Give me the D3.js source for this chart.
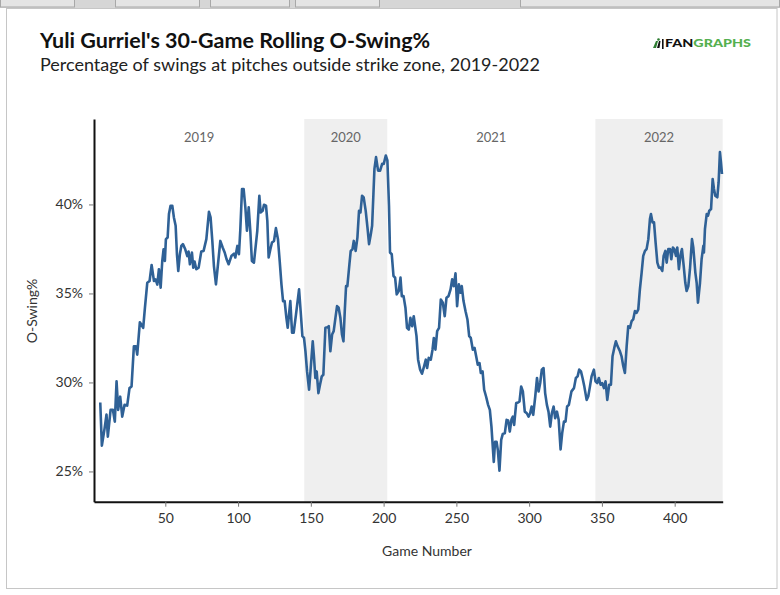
<!DOCTYPE html>
<html>
<head>
<meta charset="utf-8">
<script src="https://cdn.jsdelivr.net/npm/d3@7"></script>
<style>
  html, body { margin: 0; padding: 0; background: #ffffff; }
  svg { display: block; }
  text { font-family: Lato, "Open Sans", sans-serif; }
</style>
</head>
<body>
<svg id="chart" width="780" height="595"></svg>
<script>
// ---- data ----
const title = "Yuli Gurriel's 30-Game Rolling O-Swing%";
const subtitle = "Percentage of swings at pitches outside strike zone, 2019-2022";
const xTicks = [50, 100, 150, 200, 250, 300, 350, 400];
const yTicks = [25, 30, 35, 40];
const seasons = ["2019", "2020", "2021", "2022"];
const seasonStart = [1, 145.5, 202.5, 345.5];
const seasonEnd = [145.5, 202.5, 345.5, 433];
const seasonShaded = [false, true, false, true];

const games = [
5.3,6.4,8.3,9.6,10.5,12.4,14.0,15.3,16.5,17.6,19.0,20.4,22.0,23.8,25.4,26.8,28.4,29.8,30.7,32.5,
34.8,36.0,37.6,39.2,40.6,42.2,43.3,44.5,45.6,46.8,47.9,48.8,49.7,50.4,51.6,52.5,53.6,54.8,55.9,57.1,
58.0,58.9,60.0,61.0,62.1,63.7,65.1,66.0,66.9,68.3,69.2,70.1,71.3,72.9,74.7,76.3,78.2,80.0,81.1,82.3,
83.4,84.8,86.2,87.8,89.4,90.8,92.1,93.5,95.4,97.2,98.1,99.5,100.6,101.5,102.7,103.8,105.0,106.1,107.3,108.4,
109.5,110.9,
113.2,114.6,115.5,116.9,117.8,119.2,120.1,121.0,122.2,123.3,124.7,126.0,127.4,128.6,129.8,130.9,132.0,133.2,134.1,135.9,
137.1,138.2,139.8,141.9,143.0,144.2,145.3,146.3,147.4,148.8,150.1,151.3,152.2,153.1,154.0,155.2,156.3,157.5,158.6,160.0,
161.4,162.3,163.4,164.6,165.7,166.9,168.0,169.1,170.3,171.4,172.4,173.3,174.2,175.1,176.5,177.4,178.6,179.5,180.8,182.0,
183.1,184.1,185.2,186.3,187.7,188.9,190.0,191.2,192.1,193.0,193.7,194.8,196.2,197.6,199.0,200.1,201.5,202.6,203.7,204.4,
205.6,206.8,207.9,209.0,210.4,211.6,212.5,213.7,215.0,216.1,217.3,218.4,219.6,220.7,
222.6,223.7,225.1,226.4,227.8,229.0,229.9,231.0,232.4,233.6,234.5,235.6,236.8,238.1,239.3,240.7,242.0,243.2,244.6,246.0,
247.1,248.2,249.4,250.5,251.7,252.8,253.7,254.9,256.3,257.6,258.8,259.9,261.3,262.5,263.6,264.7,265.9,266.8,268.0,269.1,
270.4,271.8,273.0,274.1,275.0,275.7,276.6,277.6,278.5,279.6,280.8,281.9,283.3,284.5,285.6,286.7,287.9,288.8,289.7,291.1,
292.4,293.4,294.5,295.7,297.0,298.4,299.6,300.7,301.7,302.8,304.2,305.4,306.5,307.6,308.7,309.9,311.0,312.2,313.3,314.5,
315.6,316.8,317.9,319.1,320.3,321.6,322.7,323.9,325.0,326.1,327.3,
329.1,330.8,332.1,333.3,334.4,335.6,336.7,337.9,339.5,340.6,341.8,342.9,344.5,345.6,346.8,347.9,349.1,350.2,351.4,352.5,
353.7,355.0,356.2,357.3,358.5,359.6,360.8,362.4,363.5,364.7,365.8,367.0,368.1,369.3,370.4,371.5,372.7,373.8,375.0,376.1,
377.3,378.4,379.6,380.7,381.9,383.0,383.7,384.8,385.8,386.9,388.1,389.2,390.3,391.5,392.4,393.6,394.5,395.6,396.8,397.7,
398.8,399.7,400.9,401.8,402.9,404.1,405.0,406.2,407.3,408.2,409.4,410.5,411.9,412.8,414.2,415.1,416.0,417.4,418.5,419.7,
420.1,420.8,422.0,422.9,423.8,425.0,426.1,427.0,427.9,429.3,430.2,431.1,431.8,432.5
];

const oSwing = [
28.87,26.45,27.43,28.2,26.95,28.46,28.46,27.8,30.06,28.46,29.2,28.08,28.74,28.7,29.68,29.77,32.03,32.03,31.56,33.38,
33.07,34.2,35.6,35.7,36.6,35.7,35.79,35.5,36.36,35.32,36.82,37.48,36.82,38.05,38.14,39.46,39.93,39.93,39.27,38.8,
37.2,36.26,37.2,37.67,37.77,37.48,37.1,37.35,36.64,37.3,36.45,36.79,36.36,36.45,37.35,37.39,38.05,39.59,39.27,37.95,
36.54,35.51,36.64,37.95,37.58,37.3,36.92,36.64,37.1,37.24,37.02,37.67,37.2,38.52,40.87,40.87,39.84,38.52,39.84,38.52,
36.82,36.73,
38.52,40.49,39.55,39.64,39.98,39.93,39.08,37.02,37.48,37.86,37.95,38.67,38.05,36.82,35.51,34.57,34.57,33.63,33.07,34.57,
32.79,32.79,33.82,35.23,34.0,32.6,32.5,31.75,30.62,29.59,31.0,32.31,31.38,30.25,30.62,29.4,29.87,30.34,30.43,33.07,
33.1,33.16,31.75,32.69,32.88,33.63,34.29,34.2,33.63,32.69,32.31,34.0,35.41,35.41,36.64,37.39,37.48,37.95,37.39,38.14,
39.64,39.55,40.49,40.4,39.64,38.71,37.77,38.33,38.8,40.59,42.0,42.66,41.9,41.9,42.28,42.28,42.75,42.47,39.93,37.3,
37.2,35.98,35.89,34.95,35.13,35.89,34.85,34.85,34.2,33.07,32.97,33.63,33.16,33.72,
32.6,31.28,30.72,30.49,30.9,31.28,30.81,31.38,31.28,31.84,32.5,31.84,32.88,33.07,34.66,34.48,33.72,34.76,34.85,35.23,
35.79,35.41,36.13,34.29,35.51,35.04,35.41,34.57,34.0,33.54,32.6,32.5,31.84,31.94,31.47,31.0,31.09,30.53,30.62,29.59,
29.21,28.74,28.46,27.52,26.39,25.54,26.67,26.67,26.2,25.04,26.77,27.11,27.15,27.9,27.86,27.24,27.93,28.08,27.61,28.84,
28.87,28.93,29.77,29.49,28.36,28.27,28.08,28.27,28.65,28.18,29.21,30.25,29.49,29.97,30.72,30.81,29.4,28.74,28.36,27.52,
28.27,28.65,27.99,28.36,27.9,26.24,27.15,27.8,27.8,28.65,28.74,
29.50,29.68,30.25,30.34,30.72,30.62,30.25,29.78,29.02,29.21,29.78,30.34,30.72,30.06,29.96,30.25,29.87,29.96,29.68,30.06,
29.02,29.87,29.87,31.47,31.94,32.31,32.03,31.75,31.47,30.91,30.53,32.03,33.16,33.07,33.44,33.54,34.01,33.91,34.10,35.23,
36.17,37.11,37.39,37.49,38.05,39.18,39.46,38.99,38.99,37.86,36.73,36.45,36.45,36.26,37.11,37.39,36.73,37.49,37.49,36.92,
37.58,37.49,37.11,37.58,36.36,37.20,37.49,36.55,35.60,35.14,35.42,36.36,38.05,37.58,36.17,35.60,34.48,35.60,36.92,37.67,
37.30,38.61,39.46,39.37,39.65,39.74,41.43,40.87,40.49,40.40,41.25,42.94,42.37,41.71
];

// ---- chart ----
const W = 780, H = 595;
const plot = { left: 94, right: 722.7, top: 119, bottom: 501.7 };
const svg = d3.select("#chart");

// browser-like frame with a tab strip
svg.append("rect").attr("x", 0).attr("y", 0).attr("width", W).attr("height", H).attr("fill", "#ffffff");
svg.append("rect").attr("x", 0).attr("y", 0).attr("width", W).attr("height", 8).attr("fill", "#d6d6d6");
const tabs = [[0, 75], [115, 200], [210, 290], [295, 380], [520, 780]];
svg.append("g").selectAll("rect").data(tabs).join("rect")
  .attr("x", d => d[0] + 0.5).attr("y", -1).attr("width", d => d[1] - d[0] - 1).attr("height", 8)
  .attr("fill", "#e4e4e4").attr("stroke", "#a8a8a8").attr("stroke-width", 1);
svg.append("rect").attr("x", 6.5).attr("y", 8.5).attr("width", 770.5).attr("height", 580).attr("fill", "#ffffff")
  .attr("stroke", "#c6c6c6").attr("stroke-width", 1);

const x = d3.scaleLinear().domain([1, 433]).range([plot.left, plot.right]);
const y = d3.scaleLinear().domain([23.3, 44.8]).range([plot.bottom, plot.top]);

// season shading
const seasonData = seasons.map((s, i) => ({ name: s, start: seasonStart[i], end: seasonEnd[i], shaded: seasonShaded[i] }));
svg.append("g").selectAll("rect").data(seasonData.filter(d => d.shaded)).join("rect")
  .attr("x", d => x(d.start)).attr("y", plot.top)
  .attr("width", d => x(d.end) - x(d.start)).attr("height", plot.bottom - plot.top)
  .attr("fill", "#efefef");

svg.append("g").selectAll("text").data(seasonData).join("text")
  .attr("x", d => x((d.start + d.end) / 2)).attr("y", 141.5)
  .attr("text-anchor", "middle").attr("font-size", 13).attr("fill", "#666666")
  .text(d => d.name);

// line
const pts = games.map((g, i) => [g, oSwing[i]]);
svg.append("path").datum(pts)
  .attr("fill", "none").attr("stroke", "#2f6196").attr("stroke-width", 2.6)
  .attr("stroke-linejoin", "round")
  .attr("d", d3.line().x(d => x(d[0])).y(d => y(d[1])));

// axes
const xAxis = svg.append("g").attr("transform", `translate(0,${plot.bottom})`)
  .call(d3.axisBottom(x).tickValues(xTicks).tickSizeInner(5).tickSizeOuter(0).tickPadding(6));
xAxis.select(".domain").attr("stroke", "#111").attr("stroke-width", 2);
xAxis.selectAll(".tick line").attr("stroke", "#777");
xAxis.selectAll(".tick text").attr("font-size", 14).attr("fill", "#333").attr("font-family", "Lato, sans-serif");

const yAxis = svg.append("g").attr("transform", `translate(${plot.left},0)`)
  .call(d3.axisLeft(y).tickValues(yTicks).tickFormat(d => d + "%").tickSizeInner(5).tickSizeOuter(0).tickPadding(6));
yAxis.select(".domain").attr("stroke", "#111").attr("stroke-width", 2);
yAxis.selectAll(".tick line").attr("stroke", "#777");
yAxis.selectAll(".tick text").attr("font-size", 14).attr("fill", "#333").attr("font-family", "Lato, sans-serif");

// axis titles
svg.append("text").attr("x", 427).attr("y", 556).attr("text-anchor", "middle")
  .attr("font-size", 14).attr("fill", "#333").text("Game Number");
svg.append("text").attr("transform", "translate(37,311) rotate(-90)").attr("text-anchor", "middle")
  .attr("font-size", 14).attr("fill", "#333").text("O-Swing%");

// titles
svg.append("text").attr("x", 40).attr("y", 48).attr("font-size", 21.5).attr("font-weight", 700)
  .attr("fill", "#111").text(title);
svg.append("text").attr("x", 40).attr("y", 71).attr("font-size", 18).attr("fill", "#222").text(subtitle);

// logo
const icon = svg.append("g").attr("transform", "translate(652,38)");
icon.append("path").attr("d", "M1,10 L4,3 L6,3 L4,10 Z").attr("fill", "#2e7d32");
icon.append("path").attr("d", "M5,10 L7,3 L8.5,3 L7.5,10 Z").attr("fill", "#111");
icon.append("rect").attr("x", 10).attr("y", 1).attr("width", 1.6).attr("height", 10).attr("fill", "#111");
icon.append("circle").attr("cx", 6.5).attr("cy", 1.5).attr("r", 1.3).attr("fill", "#2e7d32");
const logo = svg.append("text").attr("x", 665).attr("y", 47).attr("font-size", 11).attr("font-weight", 900)
  .attr("textLength", 86).attr("lengthAdjust", "spacingAndGlyphs");
logo.append("tspan").attr("fill", "#111").text("FAN");
logo.append("tspan").attr("fill", "#55b04f").text("GRAPHS");
</script>
</body>
</html>
